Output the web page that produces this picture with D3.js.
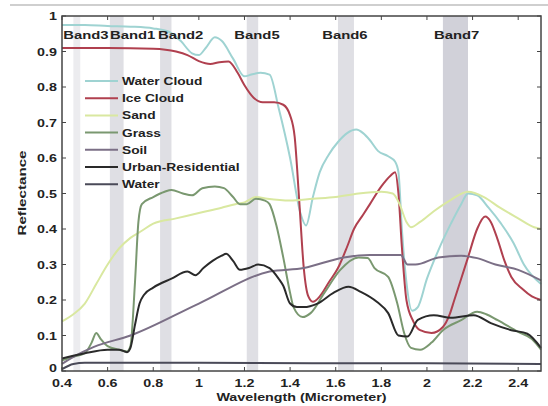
<!DOCTYPE html>
<html><head><meta charset="utf-8">
<script src="https://cdn.jsdelivr.net/npm/d3@7"></script>
<style>body{margin:0;background:#fff}svg{display:block}</style>
</head><body>
<svg id="c" width="548" height="406"></svg>
<script>
const waterCloud=[[0.40,0.975],[0.50,0.975],[0.60,0.972],[0.70,0.97],[0.80,0.965],[0.87,0.955],[0.92,0.93],[0.97,0.895],[1.00,0.89],[1.03,0.91],[1.07,0.94],[1.10,0.93],[1.15,0.88],[1.20,0.83],[1.23,0.835],[1.27,0.84],[1.31,0.835],[1.35,0.74],[1.40,0.60],[1.445,0.445],[1.47,0.41],[1.50,0.49],[1.53,0.56],[1.57,0.61],[1.61,0.645],[1.65,0.67],[1.69,0.68],[1.72,0.67],[1.75,0.65],[1.785,0.62],[1.83,0.605],[1.86,0.59],[1.875,0.56],[1.89,0.40],[1.91,0.25],[1.935,0.17],[1.96,0.18],[2.00,0.26],[2.05,0.34],[2.105,0.415],[2.15,0.47],[2.18,0.50],[2.22,0.495],[2.27,0.46],[2.325,0.415],[2.38,0.36],[2.425,0.30],[2.50,0.245]];
const iceCloud=[[0.40,0.91],[0.60,0.91],[0.80,0.908],[0.90,0.90],[0.95,0.89],[1.00,0.873],[1.05,0.865],[1.09,0.87],[1.13,0.872],[1.17,0.84],[1.20,0.805],[1.24,0.77],[1.28,0.757],[1.33,0.757],[1.37,0.75],[1.40,0.72],[1.42,0.66],[1.44,0.48],[1.46,0.29],[1.48,0.21],[1.50,0.195],[1.53,0.21],[1.57,0.25],[1.61,0.29],[1.65,0.35],[1.68,0.40],[1.72,0.44],[1.75,0.47],[1.80,0.52],[1.84,0.55],[1.86,0.56],[1.875,0.50],[1.89,0.35],[1.91,0.20],[1.94,0.14],[1.97,0.115],[2.02,0.107],[2.07,0.124],[2.10,0.16],[2.12,0.20],[2.15,0.26],[2.18,0.32],[2.22,0.40],[2.255,0.435],[2.28,0.42],[2.31,0.37],[2.34,0.31],[2.37,0.265],[2.42,0.23],[2.46,0.21],[2.50,0.20]];
const sand=[[0.40,0.14],[0.45,0.16],[0.50,0.19],[0.55,0.245],[0.60,0.30],[0.65,0.345],[0.70,0.375],[0.75,0.395],[0.80,0.415],[0.90,0.43],[1.00,0.445],[1.10,0.46],[1.16,0.47],[1.20,0.475],[1.25,0.49],[1.30,0.485],[1.40,0.48],[1.50,0.485],[1.60,0.49],[1.70,0.50],[1.80,0.505],[1.85,0.50],[1.88,0.47],[1.91,0.42],[1.93,0.405],[1.97,0.42],[2.03,0.45],[2.10,0.48],[2.18,0.505],[2.25,0.49],[2.32,0.46],[2.40,0.43],[2.47,0.405],[2.50,0.40]];
const grass=[[0.40,0.03],[0.45,0.04],[0.50,0.05],[0.53,0.08],[0.55,0.107],[0.57,0.09],[0.60,0.07],[0.65,0.06],[0.685,0.055],[0.70,0.07],[0.72,0.25],[0.735,0.42],[0.75,0.47],[0.80,0.49],[0.85,0.505],[0.88,0.51],[0.93,0.50],[0.97,0.495],[1.015,0.515],[1.07,0.52],[1.11,0.515],[1.15,0.49],[1.18,0.47],[1.21,0.47],[1.25,0.485],[1.29,0.48],[1.31,0.47],[1.34,0.41],[1.37,0.32],[1.40,0.22],[1.415,0.18],[1.455,0.152],[1.49,0.163],[1.55,0.22],[1.62,0.285],[1.70,0.32],[1.74,0.318],[1.77,0.29],[1.83,0.265],[1.87,0.19],[1.90,0.107],[1.93,0.065],[1.97,0.06],[2.02,0.08],[2.07,0.115],[2.15,0.143],[2.22,0.167],[2.26,0.16],[2.31,0.143],[2.40,0.11],[2.46,0.09],[2.50,0.06]];
const soil=[[0.40,0.02],[0.45,0.04],[0.54,0.068],[0.70,0.10],[1.00,0.19],[1.31,0.28],[1.46,0.29],[1.635,0.32],[1.75,0.327],[1.885,0.327],[1.915,0.30],[1.95,0.30],[2.05,0.32],[2.15,0.325],[2.22,0.318],[2.30,0.30],[2.40,0.285],[2.50,0.255]];
const urban=[[0.40,0.035],[0.50,0.05],[0.60,0.06],[0.65,0.06],[0.685,0.053],[0.70,0.065],[0.72,0.13],[0.74,0.19],[0.76,0.215],[0.80,0.235],[0.88,0.26],[0.95,0.28],[0.985,0.27],[1.02,0.29],[1.06,0.31],[1.10,0.325],[1.12,0.33],[1.15,0.31],[1.18,0.285],[1.22,0.29],[1.26,0.30],[1.31,0.29],[1.35,0.26],[1.37,0.24],[1.40,0.19],[1.43,0.18],[1.46,0.18],[1.52,0.19],[1.59,0.22],[1.656,0.237],[1.71,0.223],[1.78,0.195],[1.83,0.163],[1.875,0.10],[1.915,0.097],[1.96,0.144],[2.03,0.157],[2.105,0.15],[2.205,0.157],[2.28,0.135],[2.37,0.115],[2.44,0.105],[2.50,0.065]];
const water=[[0.40,0.005],[0.45,0.02],[0.50,0.023],[1.00,0.023],[1.50,0.022],[2.00,0.022],[2.50,0.02]];

const seriesNames=["Water Cloud","Ice Cloud","Sand","Grass","Soil","Urban-Residential","Water"];
const seriesData=[waterCloud,iceCloud,sand,grass,soil,urban,water];
const seriesColors=["#9fd3d2","#b0404f","#d9e8a0","#7a9870","#7b6f86","#2a2a2a","#4a4a58"];

const bandNames=["Band3","Band1","Band2","Band5","Band6","Band7"];
const bandRanges=[[0.45,0.48],[0.61,0.67],[0.83,0.88],[1.21,1.26],[1.61,1.68],[2.07,2.18]];
const bandLabelAt=[0.505,0.71,0.92,1.255,1.64,2.13];

const xTicks=[0.4,0.6,0.8,1,1.2,1.4,1.6,1.8,2,2.2,2.4];
const yTicks=[0,0.1,0.2,0.3,0.4,0.5,0.6,0.7,0.8,0.9,1];

const svg=d3.select("#c");
const L=62,R=541,T=16,B=371;
const x=d3.scaleLinear().domain([0.4,2.5]).range([L,R]);
const y=d3.scaleLinear().domain([0,1]).range([B,T]);
const SX=1.3;
const font="Arial, 'Liberation Sans', sans-serif";

svg.append("line").attr("x1",10).attr("x2",548).attr("y1",5).attr("y2",5).attr("stroke","#cfcfcf").attr("stroke-width",2);

svg.append("g").selectAll("rect").data(bandRanges).join("rect")
  .attr("x",d=>x(d[0])).attr("width",d=>x(d[1])-x(d[0]))
  .attr("y",T).attr("height",B-T)
  .attr("fill","#c9c9d2").attr("opacity",(d,i)=>i===0?0.35:(i===5?0.85:0.6));

function stext(g,tx,ty,str,size,anchor,sx){
  return g.append("g").attr("transform",`translate(${tx},${ty}) scale(${sx||SX},1)`)
   .append("text").text(str).attr("font-family",font).attr("font-weight","bold")
   .attr("font-size",size).attr("fill","#222").attr("text-anchor",anchor||"start");
}

const line=d3.line().x(d=>x(d[0])).y(d=>y(d[1])).curve(d3.curveMonotoneX);
const lg=svg.append("g");
seriesData.forEach((s,i)=>{
  lg.append("path").datum(s).attr("d",line).attr("fill","none")
    .attr("stroke",seriesColors[i]).attr("stroke-width",2).attr("stroke-linejoin","round");
});

svg.append("rect").attr("x",L).attr("y",T).attr("width",R-L).attr("height",B-T)
  .attr("fill","none").attr("stroke","#444").attr("stroke-width",1.5);

const tg=svg.append("g").attr("stroke","#444").attr("stroke-width",1);
xTicks.forEach(v=>{
  tg.append("line").attr("x1",x(v)).attr("x2",x(v)).attr("y1",B).attr("y2",B-4);
  tg.append("line").attr("x1",x(v)).attr("x2",x(v)).attr("y1",T).attr("y2",T+4);
});
yTicks.forEach(v=>{
  tg.append("line").attr("x1",L).attr("x2",L+4).attr("y1",y(v)).attr("y2",y(v));
  tg.append("line").attr("x1",R).attr("x2",R-4).attr("y1",y(v)).attr("y2",y(v));
});

const txt=svg.append("g");
xTicks.forEach(v=>stext(txt,x(v),387,d3.format("~g")(v),11,"middle"));
yTicks.forEach(v=>stext(txt,57,y(v)+(v===0?1:4),d3.format("~g")(v),11,"end"));

bandNames.forEach((b,i)=>stext(txt,x(bandLabelAt[i]),39,b,11,"middle",1.35));

seriesNames.forEach((n,i)=>{
  const yy=81+i*17.2;
  svg.append("line").attr("x1",85).attr("x2",118).attr("y1",yy).attr("y2",yy)
    .attr("stroke",seriesColors[i]).attr("stroke-width",2);
  stext(txt,122,yy+4,n,11,"start",1.25);
});

stext(txt,(L+R)/2,401,"Wavelength (Micrometer)",11,"middle",1.3);
svg.append("g").attr("transform","translate(26,193) rotate(-90)")
  .append("text").text("Reflectance").attr("font-family",font).attr("font-weight","bold")
  .attr("font-size",11).attr("fill","#222").attr("text-anchor","middle").attr("textLength",85).attr("lengthAdjust","spacingAndGlyphs");
</script>
</body></html>
